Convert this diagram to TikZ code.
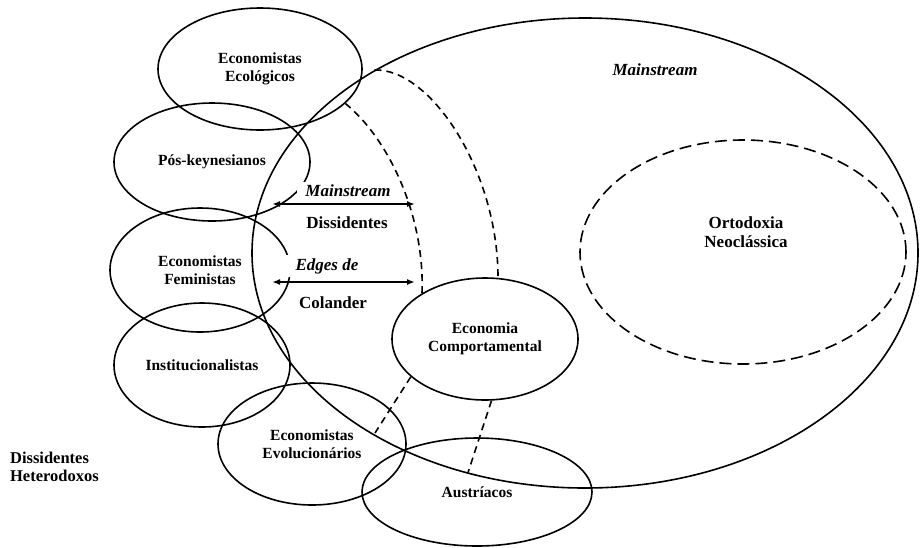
\documentclass[tikz,border=0pt]{standalone}
\usepackage{fontspec}
\setmainfont{Liberation Serif}
\usetikzlibrary{shapes.geometric,arrows.meta,positioning}
\tikzset{
    x=1pt, y=-1pt,
    school/.style={ellipse, draw, inner sep=0pt, align=center,
        font=\bfseries\fontsize{15.5}{17.5}\selectfont},
    border/.style={dash pattern=on 7pt off 5pt},
    core/.style={dash pattern=on 12pt off 6pt},
    tag/.style={align=center, font=\bfseries\fontsize{17}{18.5}\selectfont},
    itag/.style={font=\bfseries\itshape\fontsize{17}{18.5}\selectfont},
    both/.style={{Latex[length=8pt,width=6pt]}-{Latex[length=8pt,width=6pt]}}
}
\begin{document}
\begin{tikzpicture}[line width=1.6pt]
  \useasboundingbox (0,0) rectangle (923,547);
  % mainstream and its core
  \node[school, minimum width=666pt, minimum height=470pt] (main) at (585,253) {};
  \node[school, core, minimum width=326pt, minimum height=224pt] (orto) at (743,252) {};
  \node[itag] (mtop) at (655,70) {Mainstream};
  \node[tag] (ortotxt) at (746,232) {Ortodoxia\\Neocl\'assica};

  % schools
  \node[school, minimum width=204pt, minimum height=122pt] (ecol) at (260,69) {Economistas\\Ecol\'ogicos};
  \node[school, minimum width=196pt, minimum height=118pt] (pos) at (212,162) {P\'os-keynesianos};
  \node[school, minimum width=180pt, minimum height=124pt] (fem) at (200,270) {Economistas\\Feministas};
  \node[school, minimum width=176pt, minimum height=124pt] (inst) at (202,365) {Institucionalistas};
  \node[school, minimum width=188pt, minimum height=122pt] (evol) at (312,444) {Economistas\\Evolucion\'arios};
  \node[school, minimum width=230pt, minimum height=108pt] (aust) at (477,492) {Austr\'iacos};
  \node[school, minimum width=186pt, minimum height=122pt] (econ) at (485,339) {Economia\\Comportamental};

  \node[tag, align=left, anchor=west, font=\bfseries\fontsize{16.5}{18}\selectfont] (het) at (6,467) {Dissidentes\\Heterodoxos};

  % edges
  \coordinate (aend) at (375,433);
  \draw[border] (ecol.-22) .. controls (388,138) and (425,215) .. (econ.144);
  \draw[border] (econ.207) -- (aend);
  \draw[border] (main.139) .. controls (430,68) and (498,170) .. (econ.78);
  \draw[border] (econ.-84) -- (main.242);

  % arrows
  \coordinate (ml) at (272,204);
  \coordinate (mr) at (415,204);
  \coordinate (el) at (272,282);
  \coordinate (er) at (415,282);
  \node[itag, fill=white, inner xsep=8pt] (mlbl) at (348,191) {Mainstream};
  \node[tag] (dlbl) at (347,223) {Dissidentes};
  \node[itag, fill=white, inner xsep=10pt] (elbl) at (327,266) {Edges de};
  \node[tag] (clbl) at (333,303) {Colander};
  \draw[both] (ml) -- (mr);
  \draw[both] (el) -- (er);
\end{tikzpicture}
\end{document}
